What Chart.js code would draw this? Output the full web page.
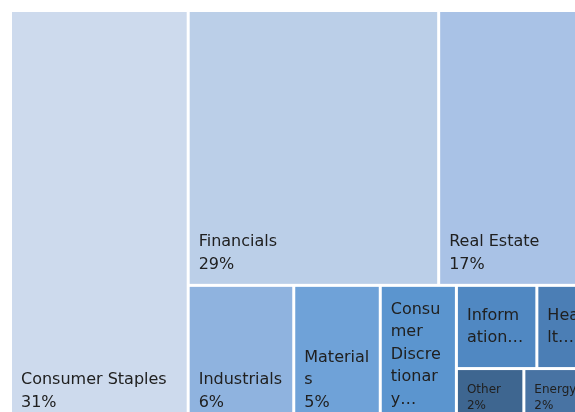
<!DOCTYPE html>
<html>
<head>
<meta charset="utf-8">
<script src="https://cdn.jsdelivr.net/npm/chart.js@4/dist/chart.umd.min.js"></script>
<style>
  html, body { margin: 0; padding: 0; background: #fff; overflow: hidden; }
  #wrap { position: absolute; left: 0; top: 0; width: 600px; height: 440px; }
</style>
</head>
<body>
<div id="wrap"><canvas id="chart-sectors"></canvas></div>
<script>
const sectors = [
    'Consumer Staples',
    'Financials',
    'Real Estate',
    'Industrials',
    'Materials',
    'Consumer Discretionary',
    'Information Technology',
    'Health Care',
    'Other',
    'Energy'
];
const weights = [30.7, 28.8, 17.4, 6.1, 5.0, 4.4, 2.8, 1.85, 1.55, 1.52];
const colors = [
    '#cddaed',
    '#bbcfe8',
    '#a9c2e6',
    '#8fb3df',
    '#6fa2d8',
    '#5b95cf',
    '#5088c2',
    '#4b7eb5',
    '#3e6690',
    '#4873a3'
];

// how tiles nest: 'h' = side by side, 'v' = stacked
const tiling = { dir: 'h', kids: [0, { dir: 'v', kids: [
    { dir: 'h', kids: [1, 2] },
    { dir: 'h', kids: [3, 4, 5, { dir: 'v', kids: [
        { dir: 'h', kids: [6, 7] },
        { dir: 'h', kids: [8, 9] }
    ] }] }
] }] };

const total = weights.reduce((a, b) => a + b, 0);

function weightOf(node) {
    if (typeof node === 'number') return weights[node];
    return node.kids.reduce((s, k) => s + weightOf(k), 0);
}

function layout(node, x0, y0, x1, y1, out) {
    if (typeof node === 'number') {
        out.push({ i: node, x0: x0, y0: y0, x1: x1, y1: y1 });
        return out;
    }
    const w = weightOf(node);
    let pos = node.dir === 'h' ? x0 : y0;
    node.kids.forEach(k => {
        const span = weightOf(k) / w * (node.dir === 'h' ? x1 - x0 : y1 - y0);
        if (node.dir === 'h') layout(k, pos, y0, pos + span, y1, out);
        else layout(k, x0, pos, x1, pos + span, out);
        pos += span;
    });
    return out;
}

const tiles = layout(tiling, 0, 0, 1, 1, []);

function wrap(ctx, text, maxW) {
    const lines = [];
    text.split(' ').forEach(word => {
        const n = lines.length;
        if (n && ctx.measureText(lines[n - 1] + ' ' + word).width <= maxW) {
            lines[n - 1] += ' ' + word;
            return;
        }
        let piece = '';
        for (const ch of word) {
            if (piece && ctx.measureText(piece + ch).width > maxW) {
                lines.push(piece);
                piece = ch;
            } else {
                piece += ch;
            }
        }
        lines.push(piece);
    });
    return lines;
}

const tilePlugin = {
    id: 'tiles',
    afterDatasetsDraw(chart) {
        const ctx = chart.ctx;
        const x = chart.scales.x, y = chart.scales.y;
        const gap = 3;
        ctx.save();
        tiles.forEach(t => {
            const left = x.getPixelForValue(t.x0) + gap / 2;
            const right = x.getPixelForValue(t.x1) - gap / 2;
            const top = y.getPixelForValue(t.y0) + gap / 2;
            const bottom = y.getPixelForValue(t.y1) - gap / 2;
            const w = right - left, h = bottom - top;

            ctx.fillStyle = colors[t.i];
            ctx.fillRect(left, top, w, h);

            const small = h < 70;
            const size = small ? 12 : 16;
            const lh = small ? 16 : 22.5;
            ctx.font = size + 'px "DejaVu Sans", sans-serif';
            const padL = 9, padR = 8.5, padT = 6, padB = 8;
            const maxW = w - padL - padR;
            let lines = wrap(ctx, sectors[t.i], maxW);
            lines.push(Math.round(weights[t.i] / total * 100) + '%');
            const maxLines = Math.floor((h - padT - padB) / lh);
            let cut = false;
            if (lines.length > maxLines) {
                cut = true;
                lines = lines.slice(0, maxLines);
                let last = lines[maxLines - 1];
                while (last && ctx.measureText(last + '…').width > maxW) last = last.slice(0, -1);
                lines[maxLines - 1] = last + '…';
            }
            ctx.save();
            ctx.beginPath();
            ctx.rect(left, top, w, h);
            ctx.clip();
            ctx.fillStyle = '#202020';
            ctx.textBaseline = 'middle';
            ctx.textAlign = 'left';
            // labels sit at the bottom; cut labels are centred
            const blockBottom = cut ? top + (h + lines.length * lh) / 2 : bottom - padB;
            lines.forEach((ln, k) => {
                const cy = blockBottom - (lines.length - k - 0.5) * lh;
                ctx.fillText(ln, left + padL, cy);
            });
            ctx.restore();
        });
        ctx.restore();
    }
};

const chartSectors = new Chart(
    document.getElementById('chart-sectors'), {
    type: 'scatter',
    data: {
        datasets: [{
            data: tiles.map(t => ({ x: (t.x0 + t.x1) / 2, y: (t.y0 + t.y1) / 2 })),
            pointRadius: 0
        }]
    },
    options: {
        responsive: true,
        maintainAspectRatio: false,
        animation: false,
        devicePixelRatio: 1,
        layout: {
            padding: { left: 10.5, top: 10.5, right: 10, bottom: 16.5 }
        },
        scales: {
            x: { type: 'linear', min: 0, max: 1, display: false },
            y: { type: 'linear', min: 0, max: 1, reverse: true, display: false }
        },
        plugins: {
            legend: { display: false },
            tooltip: { enabled: false }
        }
    },
    plugins: [tilePlugin]
});
</script>
</body>
</html>
